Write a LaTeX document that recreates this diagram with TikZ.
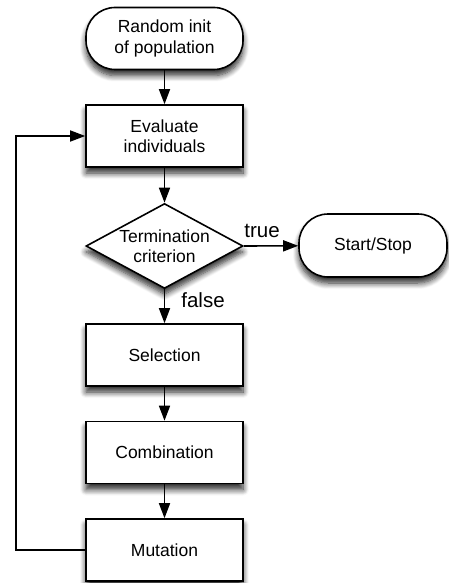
\documentclass[tikz,border=0pt]{standalone}
\usepackage{fontspec}
\setmainfont{Liberation Sans}
\usetikzlibrary{arrows.meta,shapes.geometric,shadows.blur}

\begin{document}
\begin{tikzpicture}[x=1pt,y=-1pt,
    font=\fontsize{17.5}{20.5}\selectfont,
    every node/.style={align=center},
    dropshade/.style={blur shadow={shadow xshift=0pt,shadow yshift=-6pt,shadow blur steps=8,shadow blur radius=6pt,shadow opacity=85}},
    proc/.style={draw=black,line width=1.6pt,fill=white,minimum width=157pt,minimum height=62pt,inner sep=0pt,dropshade},
    endpoint/.style={proc,rounded corners=29pt},
    cond/.style={proc,diamond,aspect=1.85,minimum height=85pt},
    flowarrow/.style={line width=1.6pt,-{Triangle[length=15pt,width=11pt]}},
    lbl/.style={font=\fontsize{20.5}{24}\selectfont}]
        \useasboundingbox (0,0) rectangle (448,583);
        \node[endpoint] (init) at (164.5,38.5) {Random init\\of population};
        \node[proc] (eval) at (164.5,136) {Evaluate\\individuals};
        \node[cond] (check) at (164.5,246) {Termination\\criterion};
        \node[endpoint,minimum width=148pt,minimum height=63pt] (stop) at (373,245.5) {Start/Stop};
        \node[proc] (sel) at (164.5,355) {Selection};
        \node[proc] (comb) at (164.5,452.5) {Combination};
        \node[proc] (mut) at (164.5,550) {Mutation};
        \node[lbl] (truelbl) at (262,231) {true};
        \node[lbl] (falselbl) at (203,300) {false};
        \coordinate (loopbot) at (16,550);
        \coordinate (looptop) at (16,136);
        \draw[flowarrow] (init) -- (eval);
        \draw[flowarrow] (eval) -- (check);
        \draw[flowarrow] (check.east) -- (stop);
        \draw[flowarrow] (check.south) -- (sel);
        \draw[flowarrow] (sel) -- (comb);
        \draw[flowarrow] (comb) -- (mut);
        \draw[flowarrow] (mut.west) -- (loopbot) -- (looptop) -- (eval.west);
\end{tikzpicture}
\end{document}
